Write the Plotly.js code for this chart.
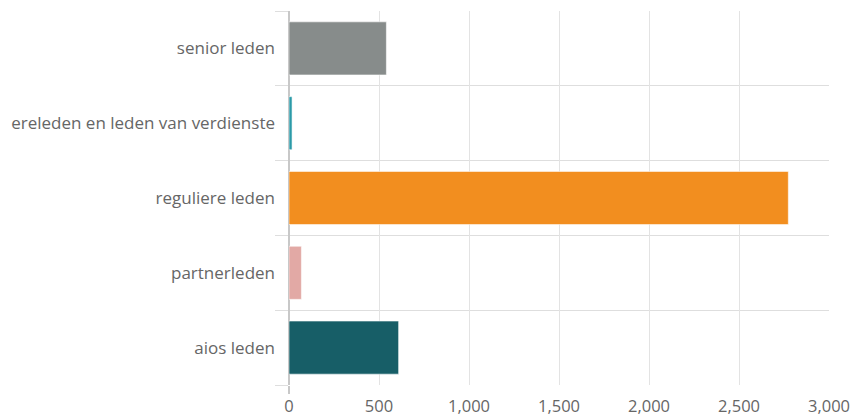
<!DOCTYPE html>
<html>
<head>
<meta charset="utf-8">
<script src="https://cdn.plot.ly/plotly-3.0.1.min.js"></script>
<style>html,body{margin:0;padding:0;background:#fff;}#chart{width:852px;height:417px;}</style>
</head>
<body>
<div id="chart"></div>
<script>
const categories = ["senior leden", "ereleden en leden van verdienste", "reguliere leden", "partnerleden", "aios leden"];
const values = [541, 17, 2774, 69, 609];
const barColors = ["#878c8b", "#2b9aa8", "#f28e1f", "#e2a9a5", "#175e67"];
const xTicks = [0, 500, 1000, 1500, 2000, 2500, 3000];

const positions = categories.map((c, i) => i);
const boundaries = [];
for (let i = 0; i <= categories.length; i++) boundaries.push(i - 0.5);

const trace = {
  type: "bar",
  orientation: "h",
  x: values,
  y: positions,
  width: 0.71,
  marker: { color: barColors, line: { color: "rgba(255,255,255,0.55)", width: 1 } },
  hoverinfo: "x+text",
  text: categories,
  textposition: "none"
};

const layout = {
  width: 852,
  height: 417,
  margin: { l: 288.5, r: 23, t: 11, b: 32, pad: 0 },
  paper_bgcolor: "#fff",
  plot_bgcolor: "#fff",
  showlegend: false,
  font: { family: "Open Sans, sans-serif", size: 17, color: "#666" },
  xaxis: {
    range: [0, 3000],
    tickvals: xTicks,
    tickformat: ",",
    showgrid: true,
    gridcolor: "#e3e3e3",
    gridwidth: 1,
    zeroline: true,
    zerolinecolor: "#c8c8c8",
    zerolinewidth: 1.5,
    showline: false,
    ticks: "",
    ticklabelstandoff: 9,
    tickfont: { size: 16.5, color: "#666" },
    minor: { tickmode: "array", tickvals: [0], ticks: "outside", ticklen: 8, tickcolor: "#c8c8c8", tickwidth: 1.5, showgrid: false },
    fixedrange: true
  },
  yaxis: {
    range: [categories.length - 0.5, -0.5],
    tickmode: "array",
    tickvals: positions,
    ticktext: categories,
    showgrid: false,
    zeroline: false,
    showline: false,
    ticks: "",
    ticklabelstandoff: 13,
    tickfont: { size: 17, color: "#666" },
    minor: { tickmode: "array", tickvals: boundaries, showgrid: true, gridcolor: "#dedede", gridwidth: 1, ticks: "outside", ticklen: 13, tickcolor: "#dedede", tickwidth: 1 },
    fixedrange: true
  }
};

Plotly.newPlot("chart", [trace], layout, { displayModeBar: false });
</script>
</body>
</html>
